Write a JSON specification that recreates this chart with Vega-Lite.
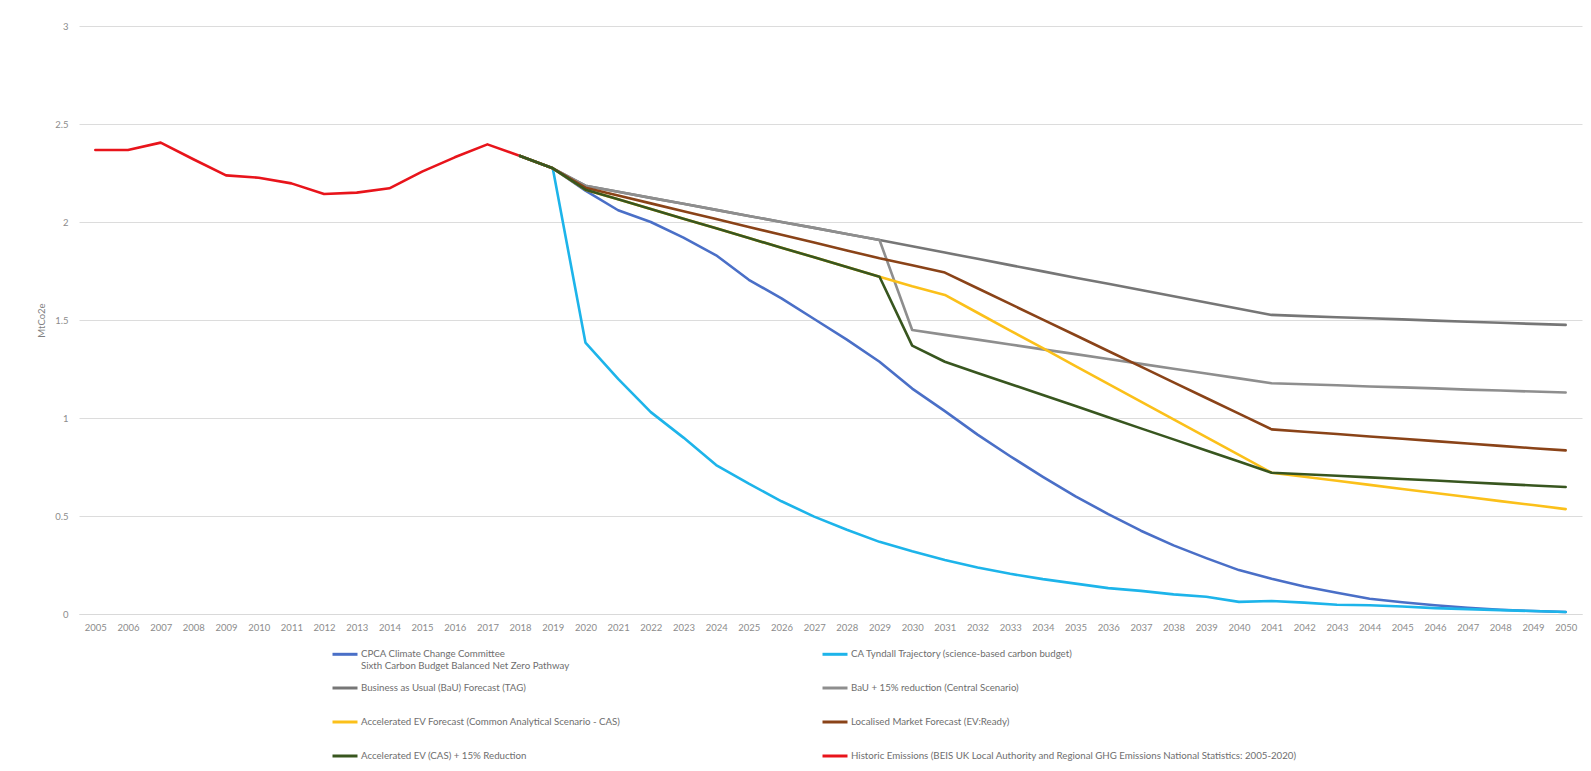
{
  "$schema": "https://vega.github.io/schema/vega-lite/v6.json",
  "width": 1503,
  "height": 588,
  "autosize": {"type": "none"},
  "padding": {"left": 79, "top": 26, "right": 9, "bottom": 157},
  "background": "white",
  "config": {
    "font": "Lato",
    "view": {"stroke": null},
    "axis": {"labelFont": "Lato", "titleFont": "Lato"},
    "legend": {"labelFont": "Lato"}
  },
  "data": {
    "values": [
      {"year": 2005, "Hist": 2.367},
      {"year": 2006, "Hist": 2.367},
      {"year": 2007, "Hist": 2.405},
      {"year": 2008, "Hist": 2.32},
      {"year": 2009, "Hist": 2.238},
      {"year": 2010, "Hist": 2.226},
      {"year": 2011, "Hist": 2.197},
      {"year": 2012, "Hist": 2.143},
      {"year": 2013, "Hist": 2.15},
      {"year": 2014, "Hist": 2.172},
      {"year": 2015, "Hist": 2.257},
      {"year": 2016, "Hist": 2.33},
      {"year": 2017, "Hist": 2.396},
      {"year": 2018, "Hist": 2.337, "CPCA": 2.337, "Tyndall": 2.337, "BaU": 2.337, "BaU15": 2.337, "AccEV": 2.337, "Local": 2.337, "AccEV15": 2.337},
      {"year": 2019, "CPCA": 2.274, "Tyndall": 2.274, "BaU": 2.274, "BaU15": 2.274, "AccEV": 2.274, "Local": 2.274, "AccEV15": 2.274},
      {"year": 2020, "CPCA": 2.16, "Tyndall": 1.385, "BaU": 2.185, "BaU15": 2.185, "AccEV": 2.165, "Local": 2.175, "AccEV15": 2.165},
      {"year": 2021, "CPCA": 2.06, "Tyndall": 1.2, "BaU": 2.154, "BaU15": 2.154, "AccEV": 2.116, "Local": 2.135, "AccEV15": 2.116},
      {"year": 2022, "CPCA": 2.0, "Tyndall": 1.03, "BaU": 2.123, "BaU15": 2.123, "AccEV": 2.066, "Local": 2.095, "AccEV15": 2.066},
      {"year": 2023, "CPCA": 1.92, "Tyndall": 0.9, "BaU": 2.093, "BaU15": 2.093, "AccEV": 2.017, "Local": 2.055, "AccEV15": 2.017},
      {"year": 2024, "CPCA": 1.83, "Tyndall": 0.76, "BaU": 2.062, "BaU15": 2.062, "AccEV": 1.968, "Local": 2.015, "AccEV15": 1.968},
      {"year": 2025, "CPCA": 1.705, "Tyndall": 0.665, "BaU": 2.031, "BaU15": 2.031, "AccEV": 1.918, "Local": 1.975, "AccEV15": 1.918},
      {"year": 2026, "CPCA": 1.61, "Tyndall": 0.575, "BaU": 2.0, "BaU15": 2.0, "AccEV": 1.869, "Local": 1.935, "AccEV15": 1.869},
      {"year": 2027, "CPCA": 1.505, "Tyndall": 0.497, "BaU": 1.97, "BaU15": 1.97, "AccEV": 1.82, "Local": 1.895, "AccEV15": 1.82},
      {"year": 2028, "CPCA": 1.4, "Tyndall": 0.43, "BaU": 1.939, "BaU15": 1.939, "AccEV": 1.77, "Local": 1.855, "AccEV15": 1.77},
      {"year": 2029, "CPCA": 1.287, "Tyndall": 0.368, "BaU": 1.908, "BaU15": 1.908, "AccEV": 1.721, "Local": 1.815, "AccEV15": 1.721},
      {"year": 2030, "CPCA": 1.15, "Tyndall": 0.32, "BaU": 1.876, "BaU15": 1.449, "AccEV": 1.672, "Local": 1.779, "AccEV15": 1.369},
      {"year": 2031, "CPCA": 1.035, "Tyndall": 0.276, "BaU": 1.844, "BaU15": 1.424, "AccEV": 1.628, "Local": 1.742, "AccEV15": 1.287},
      {"year": 2032, "CPCA": 0.915, "Tyndall": 0.237, "BaU": 1.812, "BaU15": 1.4, "AccEV": 1.537, "Local": 1.662, "AccEV15": 1.23},
      {"year": 2033, "CPCA": 0.805, "Tyndall": 0.205, "BaU": 1.78, "BaU15": 1.375, "AccEV": 1.446, "Local": 1.582, "AccEV15": 1.174},
      {"year": 2034, "CPCA": 0.7, "Tyndall": 0.178, "BaU": 1.748, "BaU15": 1.35, "AccEV": 1.356, "Local": 1.502, "AccEV15": 1.117},
      {"year": 2035, "CPCA": 0.6, "Tyndall": 0.155, "BaU": 1.716, "BaU15": 1.326, "AccEV": 1.265, "Local": 1.422, "AccEV15": 1.061},
      {"year": 2036, "CPCA": 0.51, "Tyndall": 0.132, "BaU": 1.685, "BaU15": 1.301, "AccEV": 1.174, "Local": 1.342, "AccEV15": 1.004},
      {"year": 2037, "CPCA": 0.425, "Tyndall": 0.118, "BaU": 1.653, "BaU15": 1.276, "AccEV": 1.084, "Local": 1.262, "AccEV15": 0.947},
      {"year": 2038, "CPCA": 0.35, "Tyndall": 0.1, "BaU": 1.621, "BaU15": 1.251, "AccEV": 0.993, "Local": 1.182, "AccEV15": 0.891},
      {"year": 2039, "CPCA": 0.285, "Tyndall": 0.088, "BaU": 1.589, "BaU15": 1.227, "AccEV": 0.902, "Local": 1.102, "AccEV15": 0.834},
      {"year": 2040, "CPCA": 0.224, "Tyndall": 0.062, "BaU": 1.557, "BaU15": 1.202, "AccEV": 0.812, "Local": 1.022, "AccEV15": 0.778},
      {"year": 2041, "CPCA": 0.18, "Tyndall": 0.066, "BaU": 1.526, "BaU15": 1.177, "AccEV": 0.721, "Local": 0.942, "AccEV15": 0.721},
      {"year": 2042, "CPCA": 0.14, "Tyndall": 0.058, "BaU": 1.52, "BaU15": 1.172, "AccEV": 0.7, "Local": 0.93, "AccEV15": 0.713},
      {"year": 2043, "CPCA": 0.108, "Tyndall": 0.047, "BaU": 1.514, "BaU15": 1.167, "AccEV": 0.68, "Local": 0.918, "AccEV15": 0.705},
      {"year": 2044, "CPCA": 0.078, "Tyndall": 0.045, "BaU": 1.509, "BaU15": 1.161, "AccEV": 0.659, "Local": 0.906, "AccEV15": 0.697},
      {"year": 2045, "CPCA": 0.06, "Tyndall": 0.038, "BaU": 1.503, "BaU15": 1.156, "AccEV": 0.638, "Local": 0.894, "AccEV15": 0.689},
      {"year": 2046, "CPCA": 0.045, "Tyndall": 0.03, "BaU": 1.497, "BaU15": 1.151, "AccEV": 0.617, "Local": 0.882, "AccEV15": 0.681},
      {"year": 2047, "CPCA": 0.032, "Tyndall": 0.025, "BaU": 1.491, "BaU15": 1.145, "AccEV": 0.597, "Local": 0.87, "AccEV15": 0.672},
      {"year": 2048, "CPCA": 0.022, "Tyndall": 0.02, "BaU": 1.486, "BaU15": 1.14, "AccEV": 0.576, "Local": 0.858, "AccEV15": 0.664},
      {"year": 2049, "CPCA": 0.015, "Tyndall": 0.015, "BaU": 1.48, "BaU15": 1.135, "AccEV": 0.556, "Local": 0.846, "AccEV15": 0.656},
      {"year": 2050, "CPCA": 0.01, "Tyndall": 0.01, "BaU": 1.475, "BaU15": 1.13, "AccEV": 0.535, "Local": 0.835, "AccEV15": 0.648}
    ]
  },
  "transform": [
    {"fold": ["CPCA", "Tyndall", "BaU", "BaU15", "AccEV", "Local", "AccEV15", "Hist"], "as": ["series", "value"]},
    {"filter": "isValid(datum.value)"}
  ],
  "mark": {"type": "line", "strokeWidth": 2.6, "strokeJoin": "round", "strokeCap": "round"},
  "encoding": {
    "x": {
      "field": "year",
      "type": "ordinal",
      "scale": {"type": "point", "padding": 0.5},
      "axis": {
        "title": null,
        "labelAngle": 0,
        "labelFontSize": 9.5,
        "labelColor": "#8c8c8c",
        "labelPadding": 8,
        "ticks": false,
        "tickSize": 0,
        "domain": true,
        "domainColor": "#d9d9d9",
        "domainWidth": 1,
        "grid": false
      }
    },
    "y": {
      "field": "value",
      "type": "quantitative",
      "scale": {"domain": [0, 3], "nice": false, "zero": true},
      "axis": {
        "title": "MtCo2e",
        "titleFontSize": 9.5,
        "titleFontWeight": "normal",
        "titleColor": "#7f7f7f",
        "titlePadding": 8,
        "values": [0, 0.5, 1, 1.5, 2, 2.5, 3],
        "format": "~g",
        "labelFontSize": 9.5,
        "labelColor": "#8c8c8c",
        "labelPadding": 11,
        "ticks": false,
        "tickSize": 0,
        "domain": false,
        "grid": true,
        "gridColor": "#dcdcdc",
        "gridWidth": 1
      }
    },
    "color": {
      "field": "series",
      "type": "nominal",
      "scale": {
        "domain": ["CPCA", "Tyndall", "BaU", "BaU15", "AccEV", "Local", "AccEV15", "Hist"],
        "range": ["#4a6fc7", "#1db4ea", "#767676", "#8e8e8e", "#fbc01a", "#8a4318", "#38561f", "#e8141b"]
      },
      "legend": {
        "orient": "none",
        "legendX": 252,
        "legendY": 614,
        "title": null,
        "columns": 2,
        "direction": "horizontal",
        "gridAlign": "each",
        "columnPadding": 195,
        "rowPadding": 3,
        "padding": 0,
        "symbolType": "stroke",
        "symbolSize": 625,
        "symbolStrokeWidth": 3,
        "labelOffset": 2,
        "labelFontSize": 9.7,
        "labelColor": "#6e6e6e",
        "labelLimit": 700,
        "labelBaseline": "middle",
        "labelExpr": "datum.value == 'CPCA' ? ['CPCA Climate Change Committee', 'Sixth Carbon Budget Balanced Net Zero Pathway'] : [datum.value == 'Tyndall' ? 'CA Tyndall Trajectory (science-based carbon budget)' : datum.value == 'BaU' ? 'Business as Usual (BaU) Forecast (TAG)' : datum.value == 'BaU15' ? 'BaU + 15% reduction (Central Scenario)' : datum.value == 'AccEV' ? 'Accelerated EV Forecast (Common Analytical Scenario - CAS)' : datum.value == 'Local' ? 'Localised Market Forecast (EV:Ready)' : datum.value == 'AccEV15' ? 'Accelerated EV (CAS) + 15% Reduction' : 'Historic Emissions (BEIS UK Local Authority and Regional GHG Emissions National Statistics: 2005-2020)', '']"
      }
    }
  }
}
